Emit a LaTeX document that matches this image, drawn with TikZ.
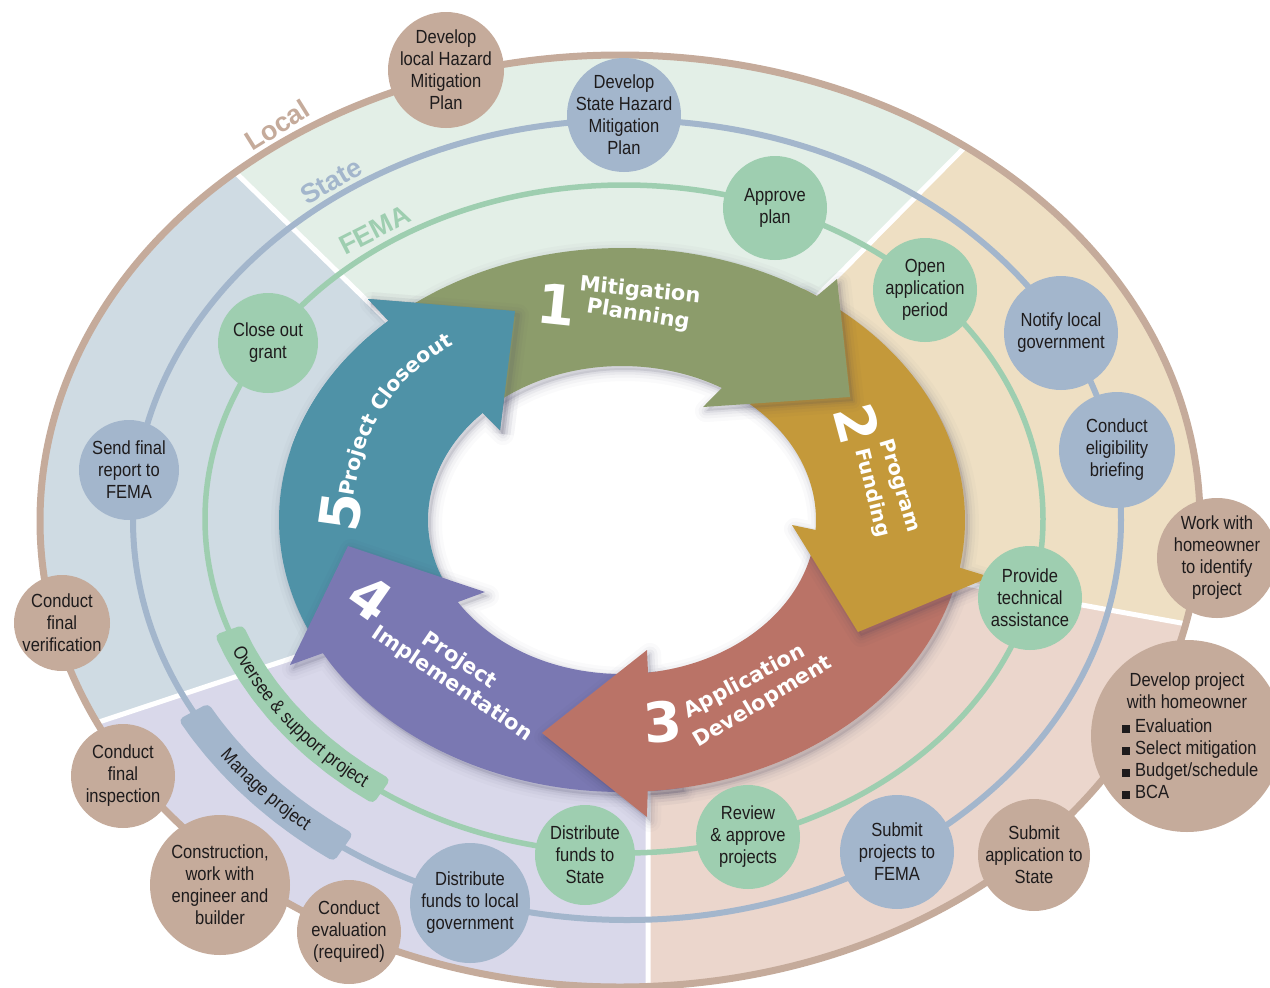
\documentclass[tikz,border=0pt]{standalone}
\usepackage{fontspec}
\setmainfont{Liberation Sans}
\newfontfamily\cfont{Liberation Sans}[FakeStretch=0.87]
\newfontfamily\afont{DejaVu Sans}
\usetikzlibrary{decorations.text}
\definecolor{localc}{HTML}{C5AB9B}
\definecolor{statec}{HTML}{A3B6CC}
\definecolor{femac}{HTML}{9ECEB0}
\definecolor{secTop}{HTML}{E3EFE7}
\definecolor{secRight}{HTML}{EEDFC3}
\definecolor{secBR}{HTML}{EBD6CC}
\definecolor{secBL}{HTML}{D9D8EA}
\definecolor{secLeft}{HTML}{CFDBE3}
\definecolor{arrGreen}{HTML}{8C9C6B}
\definecolor{arrGold}{HTML}{C4993A}
\definecolor{arrRed}{HTML}{BA7367}
\definecolor{arrPurple}{HTML}{7A78B2}
\definecolor{arrTeal}{HTML}{4F92A7}
\definecolor{shadowc}{HTML}{3A3A5A}
\definecolor{txt}{HTML}{1E1B1C}

% arrow outlines (pixel coordinates, y downward, angles clockwise)
\newcommand\arrTeal{plot[domain=155:227.1,samples=60] ({622+343*cos(\x)},{520+272*sin(\x)}) -- (368,299) -- (515,311) -- (500,430) -- plot[domain=155:224.1,samples=60] ({622+194*cos(379.1-\x)},{520+154*sin(379.1-\x)}) -- cycle}
\newcommand\arrTealHead{plot[domain=195:227.1,samples=30] ({622+343*cos(\x)},{520+272*sin(\x)}) -- (368,299) -- (515,311) -- (500,430) -- plot[domain=195:224.1,samples=30] ({622+194*cos(419.1-\x)},{520+154*sin(419.1-\x)}) -- cycle}
\newcommand\arrGreen{plot[domain=228:304.6,samples=60] ({622+343*cos(\x)},{520+272*sin(\x)}) -- (837,279) -- (850,397) -- (703,407) -- plot[domain=228:301,samples=60] ({622+194*cos(529-\x)},{520+154*sin(529-\x)}) -- cycle}
\newcommand\arrGold{plot[domain=302:370.1,samples=60] ({622+343*cos(\x)},{520+272*sin(\x)}) -- (990,577) -- (858,632) -- (792,525) -- plot[domain=302:363.7,samples=60] ({622+194*cos(665.7-\x)},{520+154*sin(665.7-\x)}) -- cycle}
\newcommand\arrRed{plot[domain=12:85.7,samples=60] ({622+343*cos(\x)},{520+272*sin(\x)}) -- (647,817) -- (542,733) -- (647,650) -- plot[domain=12:82.3,samples=60] ({622+194*cos(94.3-\x)},{520+154*sin(94.3-\x)}) -- cycle}
\newcommand\arrPurple{plot[domain=80:150.7,samples=60] ({622+343*cos(\x)},{520+272*sin(\x)}) -- (290,665) -- (348,546) -- (485,592) -- plot[domain=80:147.8,samples=60] ({622+194*cos(227.8-\x)},{520+154*sin(227.8-\x)}) -- cycle}

\newcommand\arrshadow[1]{%
  \fill[shadowc, opacity=0.12, xshift=3pt, yshift=-4pt] #1;
  \foreach \w/\o in {22/0.025,15/0.035,9/0.05,4/0.07}{%
    \draw[shadowc, line width=\w pt, opacity=\o, line join=round, xshift=3pt, yshift=-4pt] #1;}%
}
\newcommand\sqb{\rule{8pt}{8pt}\hspace{5pt}}

\begin{document}
\begin{tikzpicture}[x=1pt,y=-1pt,
  lc/.style={circle, fill=localc, minimum size=#1, inner sep=0pt},
  sc/.style={circle, fill=statec, minimum size=#1, inner sep=0pt},
  fc/.style={circle, fill=femac, minimum size=#1, inner sep=0pt},
  ctext/.style={font=\cfont\fontsize{19}{22}\selectfont, text=txt, align=center, inner sep=0pt},
  alab/.style={font=\afont\bfseries\fontsize{21}{24}\selectfont, text=white, inner sep=0pt},
  anum/.style={font=\afont\bfseries\fontsize{55}{60}\selectfont, text=white, inner sep=0pt},
  ringlab/.style={font=\bfseries\fontsize{27}{30}\selectfont, inner sep=0pt}]
\useasboundingbox (0,0) rectangle (1270,988);

% ---------- sectors ----------
\begin{scope}
\clip (620,521) ellipse [x radius=580pt, y radius=466pt];
\fill[secTop] (440,372) -- (149,88) -- (149,-60) -- (1053,-60) -- (1053,58) -- (780,334) -- cycle;
\fill[secRight] (780,334) -- (1053,58) -- (1330,58) -- (1330,650) -- (900,572) -- cycle;
\fill[secBR] (900,572) -- (1330,650) -- (1330,1060) -- (648,1060) -- (648,760) -- cycle;
\fill[secBL] (648,760) -- (648,1060) -- (-60,1060) -- (-60,762) -- (-22,762) -- (359,636) -- cycle;
\fill[secLeft] (359,636) -- (-22,762) -- (-60,762) -- (-60,88) -- (149,88) -- (440,372) -- cycle;
\draw[white, line width=5pt] (440,372) -- (149,88) (780,334) -- (1053,58) (900,572) -- (1330,650) (648,760) -- (648,1060) (359,636) -- (-22,762);
\end{scope}
\fill[white] (622,520) ellipse [x radius=200pt, y radius=160pt];

% ---------- rings ----------
\draw[localc, line width=7pt] (620,521) ellipse [x radius=580pt, y radius=466pt];
\draw[statec, line width=6pt] (627,520) ellipse [x radius=494pt, y radius=400pt];
\draw[femac, line width=5.5pt] (624,519) ellipse [x radius=419pt, y radius=334pt];

% ---------- bands on rings ----------
\fill[femac, rounded corners=5pt] plot[domain=125.3:160.6, samples=10] ({624+434*cos(\x)},{519+349*sin(\x)}) -- plot[domain=125.3:160.6, samples=10] ({624+404*cos(285.9-\x)},{519+319*sin(285.9-\x)}) -- cycle;
\coordinate (oversee) at (290,718);
\path[decorate, decoration={text along path, text align=center, text color=txt, text={|\cfont\fontsize{19}{22}\selectfont|Oversee {\&} support project}}] plot[domain=121:165, samples=50] ({624+425*cos(286-\x)},{519+340*sin(286-\x)});

\fill[statec, rounded corners=5pt] plot[domain=125:151.4, samples=10] ({627+511*cos(\x)},{520+417*sin(\x)}) -- plot[domain=125:151.4, samples=10] ({627+477*cos(276.4-\x)},{520+383*sin(276.4-\x)}) -- cycle;
\coordinate (manage) at (260,787);
\path[decorate, decoration={text along path, text align=center, text color=txt, text={|\cfont\fontsize{19}{22}\selectfont|Manage project}}] plot[domain=116:160, samples=50] ({627+500*cos(276-\x)},{520+406*sin(276-\x)});

% ---------- central arrows ----------
\arrshadow{\arrTeal}
\fill[arrTeal] \arrTeal;
\arrshadow{\arrPurple}
\fill[arrPurple] \arrPurple;
\arrshadow{\arrRed}
\fill[arrRed] \arrRed;
\arrshadow{\arrGold}
\fill[arrGold] \arrGold;
\arrshadow{\arrGreen}
\fill[arrGreen] \arrGreen;
\foreach \w/\o in {22/0.025,15/0.035,9/0.05,4/0.07}{%
  \draw[shadowc, line width=\w pt, opacity=\o, line join=round, xshift=3pt, yshift=-4pt] (368,299) -- (515,311) -- (500,430);}
\fill[arrTeal] \arrTealHead;

% ---------- arrow labels ----------
\node[anum, rotate=-6] (n1) at (557,305) {1};
\node[alab, rotate=-6] (t1a) at (640,291) {Mitigation};
\node[alab, rotate=-9] (t1b) at (638,315) {Planning};
\node[anum, rotate=-75] (n2) at (857,424) {2};
\node[alab, rotate=-73, font=\afont\bfseries\fontsize{20}{24}\selectfont] (t2a) at (899,486) {Program};
\node[alab, rotate=-76, font=\afont\bfseries\fontsize{20}{24}\selectfont] (t2b) at (872,493) {Funding};
\node[anum, rotate=5] (n3) at (663,722) {3};
\node[alab, rotate=28] (t3a) at (745,682) {Application};
\node[alab, rotate=31] (t3b) at (763,702) {Development};
\node[anum, rotate=-35] (n4) at (371,598) {4};
\node[alab, rotate=-34] (t4a) at (459,661) {Project};
\node[alab, rotate=-34] (t4b) at (452,684) {Implementation};
\node[anum, rotate=82] (n5) at (341,512) {5};
\path[decorate, decoration={text along path, text align=left, text color=white, text={|\afont\bfseries\fontsize{20.5}{24}\selectfont|Project Closeout}}] (354,497) .. controls (361.7,448) and (376.3,390) .. (452,345) -- (500,316);

% ---------- FEMA nodes ----------
\node[fc=104pt] (approve) at (775,208) {};
\node[ctext] at (approve) {Approve\\plan};
\node[fc=104pt] (openapp) at (925,290) {};
\node[ctext] at (openapp) {Open\\application\\period};
\node[fc=104pt] (techassist) at (1030,598) {};
\node[ctext] at (techassist) {Provide\\technical\\assistance};
\node[fc=104pt] (review) at (748,837) {};
\node[ctext] at (review) {Review\\\& approve\\projects};
\node[fc=100pt] (diststate) at (585,855) {};
\node[ctext] at (diststate) {Distribute\\funds to\\State};
\node[fc=100pt] (closeout) at (268,343) {};
\node[ctext] at (closeout) {Close out\\grant};

% ---------- State nodes ----------
\node[sc=114pt] (dshmp) at (624,115) {};
\node[ctext] at (dshmp) {Develop\\State Hazard\\Mitigation\\Plan};
\node[sc=114pt] (notify) at (1061,333) {};
\node[ctext] at (notify) {Notify local\\government};
\node[sc=116pt] (eligib) at (1117,450) {};
\node[ctext] at (eligib) {Conduct\\eligibility\\briefing};
\node[sc=114pt] (submitproj) at (897,852) {};
\node[ctext] at (submitproj) {Submit\\projects to\\FEMA};
\node[sc=120pt] (distlocal) at (470,903) {};
\node[ctext] at (distlocal) {Distribute\\funds to local\\government};
\node[sc=100pt] (sendrep) at (129,470) {};
\node[ctext] at (sendrep) {Send final\\report to\\FEMA};

% ---------- Local nodes ----------
\node[lc=116pt] (dlhmp) at (446,70) {};
\node[ctext] at (dlhmp) {Develop\\local Hazard\\Mitigation\\Plan};
\node[lc=120pt] (workhome) at (1217,558) {};
\node[ctext] at (workhome) {Work with\\homeowner\\to identify\\project};
\node[lc=192pt] (devproj) at (1187,736) {};
\node[ctext] at (1187,691) {Develop project\\with homeowner};
\node[ctext, anchor=west, align=left] at (1122,759) {\sqb Evaluation\\\sqb Select mitigation\\\sqb Budget/schedule\\\sqb BCA};
\node[lc=112pt] (submitapp) at (1034,855) {};
\node[ctext] at (submitapp) {Submit\\application to\\State};
\node[lc=104pt] (evalreq) at (349,932) {};
\node[ctext] at (evalreq) {Conduct\\evaluation\\(required)};
\node[lc=140pt] (constr) at (220,885) {};
\node[ctext] at (constr) {Construction,\\work with\\engineer and\\builder};
\node[lc=104pt] (finalinsp) at (123,776) {};
\node[ctext] at (finalinsp) {Conduct\\final\\inspection};
\node[lc=96pt] (finalver) at (62,623) {};
\node[ctext] at (finalver) {Conduct\\final\\verification};

% ---------- ring labels ----------
\node[ringlab, text=localc, rotate=32] (loclab) at (277,125) {Local};
\node[ringlab, text=statec, rotate=30] (statelab) at (331,181) {State};
\node[ringlab, text=femac, rotate=27] (femalab) at (375,230) {FEMA};
\end{tikzpicture}
\end{document}
